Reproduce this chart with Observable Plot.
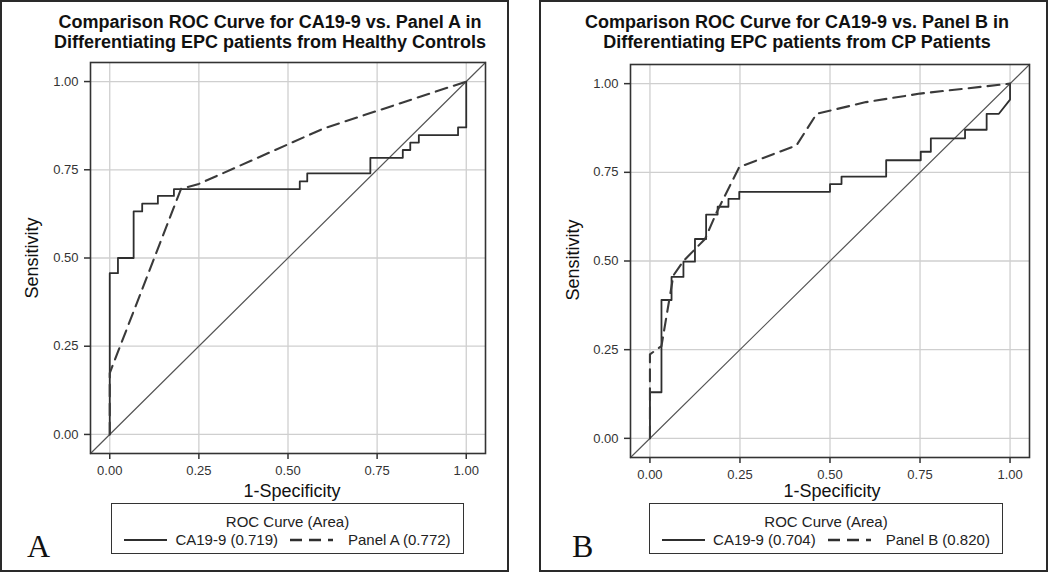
<!DOCTYPE html>
<html>
<head>
<meta charset="utf-8">
<script src="https://cdn.jsdelivr.net/npm/d3@7"></script>
<script src="https://cdn.jsdelivr.net/npm/@observablehq/plot@0.6"></script>
<style>
  html, body { margin: 0; padding: 0; background: #fff; }
  #page { position: relative; width: 1050px; height: 573px; overflow: hidden; font-family: "Liberation Sans", Arial, sans-serif; color: #222; }
  .box { position: absolute; border: 2.5px solid #2a2a2a; box-sizing: border-box; }
  .title { position: absolute; font-weight: bold; font-size: 18px; line-height: 20px; text-align: center; white-space: nowrap; transform: translateX(-50%); color: #111; }
  .xlab { position: absolute; font-size: 18px; line-height: 18px; transform: translateX(-50%); white-space: nowrap; color: #111; }
  .ylab { position: absolute; font-size: 18px; line-height: 18px; white-space: nowrap; color: #111; transform: translate(-50%, -50%) rotate(-90deg); }
  .legend { position: absolute; border: 1.5px solid #333; box-sizing: border-box; font-size: 15px; color: #222; }
  .legend .lt { text-align: center; margin-top: 9px; line-height: 17px; white-space: nowrap; }
  .legend .row { display: flex; flex-wrap: nowrap; justify-content: center; align-items: center; margin-top: 1px; line-height: 17px; white-space: nowrap; }
  .legend .row > * { flex: 0 0 auto; }
  .legend svg { display: block; }
  .letter { position: absolute; font-family: "Liberation Serif", "Times New Roman", serif; font-size: 32px; color: #111; }
  .plotwrap { position: absolute; }
</style>
</head>
<body>
<div id="page"></div>
<script>
// ---------------- DATA ----------------
const axisTicks = [0, 0.25, 0.5, 0.75, 1];
const axisDomain = [-0.054, 1.054];

// Panel A chart (EPC vs Healthy Controls)
const titleA = ["Comparison ROC Curve for CA19-9 vs. Panel A in", "Differentiating EPC patients from Healthy Controls"];
const caA_fpr = [0, 0, 0.023, 0.023, 0.067, 0.067, 0.091, 0.091, 0.135, 0.135, 0.18, 0.18, 0.533, 0.533, 0.554, 0.554, 0.731, 0.731, 0.822, 0.822, 0.843, 0.843, 0.867, 0.867, 0.977, 0.977, 1.0, 1.0];
const caA_tpr = [0, 0.457, 0.457, 0.5, 0.5, 0.632, 0.632, 0.654, 0.654, 0.676, 0.676, 0.695, 0.695, 0.717, 0.717, 0.74, 0.74, 0.784, 0.784, 0.806, 0.806, 0.827, 0.827, 0.848, 0.848, 0.87, 0.87, 1.0];
const panelA_fpr = [0, 0, 0.2, 0.25, 0.6, 1.0];
const panelA_tpr = [0, 0.174, 0.696, 0.71, 0.867, 1.0];
const legendA = ["CA19-9 (0.719)", "Panel A (0.772)"];

// Panel B chart (EPC vs CP Patients)
const titleB = ["Comparison ROC Curve for CA19-9 vs. Panel B in", "Differentiating EPC patients from CP Patients"];
const caB_fpr = [0, 0, 0.032, 0.032, 0.06, 0.06, 0.093, 0.093, 0.125, 0.125, 0.156, 0.156, 0.188, 0.188, 0.218, 0.218, 0.248, 0.248, 0.5, 0.5, 0.532, 0.532, 0.656, 0.656, 0.752, 0.752, 0.78, 0.78, 0.875, 0.875, 0.935, 0.935, 0.969, 1.0, 1.0];
const caB_tpr = [0, 0.13, 0.13, 0.39, 0.39, 0.455, 0.455, 0.498, 0.498, 0.562, 0.562, 0.631, 0.631, 0.653, 0.653, 0.675, 0.675, 0.695, 0.695, 0.717, 0.717, 0.738, 0.738, 0.784, 0.784, 0.808, 0.808, 0.846, 0.846, 0.87, 0.87, 0.915, 0.915, 0.955, 1.0];
const panelB_fpr = [0, 0, 0.032, 0.065, 0.093, 0.153, 0.185, 0.248, 0.407, 0.463, 0.6, 0.75, 1.0];
const panelB_tpr = [0, 0.237, 0.26, 0.459, 0.5, 0.562, 0.637, 0.765, 0.826, 0.915, 0.948, 0.972, 1.0];
const legendB = ["CA19-9 (0.704)", "Panel B (0.820)"];

const legendTitle = "ROC Curve (Area)";
const xLabel = "1-Specificity";
const yLabel = "Sensitivity";
const letters = ["A", "B"];

// ---------------- DRAW ----------------
const page = document.getElementById("page");
const toPts = (xs, ys) => xs.map((x, i) => ({x, y: ys[i]}));
const CURVE = "#2e2e2e";
const DASH = "12,7";

function el(tag, cls, css, text) {
  const e = document.createElement(tag);
  if (cls) e.className = cls;
  Object.assign(e.style, css || {});
  if (text != null) e.textContent = text;
  page.appendChild(e);
  return e;
}

function sample(dashed) {
  const ns = "http://www.w3.org/2000/svg";
  const s = document.createElementNS(ns, "svg");
  s.setAttribute("width", 43); s.setAttribute("height", 10);
  const l = document.createElementNS(ns, "line");
  l.setAttribute("x1", 0); l.setAttribute("x2", 43); l.setAttribute("y1", 5); l.setAttribute("y2", 5);
  l.setAttribute("stroke", CURVE); l.setAttribute("stroke-width", dashed ? 2.4 : 1.9);
  if (dashed) l.setAttribute("stroke-dasharray", DASH);
  s.appendChild(l);
  return s;
}

function panel(cfg) {
  el("div", "box", {left: cfg.boxL + "px", top: "0px", width: cfg.boxW + "px", height: "572px"});
  const t = el("div", "title", {left: cfg.titleX + "px", top: "12px"});
  t.innerHTML = cfg.title.join("<br>");

  const diag = toPts(axisDomain, axisDomain);
  const chart = Plot.plot({
    width: 505, height: 460,
    marginLeft: 90, marginRight: cfg.mr, marginTop: 22, marginBottom: 460 - 22 - cfg.ph,
    x: {domain: axisDomain},
    y: {domain: axisDomain},
    style: {fontFamily: "Liberation Sans, Arial, sans-serif", fontSize: "13px", color: "#333", background: "transparent", overflow: "visible"},
    marks: [
      Plot.gridX(axisTicks, {stroke: "#cfcfcf", strokeOpacity: 1, strokeWidth: 1.3}),
      Plot.gridY(axisTicks, {stroke: "#cfcfcf", strokeOpacity: 1, strokeWidth: 1.3}),
      Plot.line(diag, {x: "x", y: "y", stroke: "#555", strokeWidth: 1.2}),
      Plot.line(toPts(cfg.caX, cfg.caY), {x: "x", y: "y", stroke: CURVE, strokeWidth: 1.8}),
      Plot.line(toPts(cfg.pX, cfg.pY), {x: "x", y: "y", stroke: "#3a3a3a", strokeWidth: 2.1, strokeDasharray: DASH}),
      Plot.axisX(axisTicks, {tickFormat: d3.format(".2f"), tickSize: 6, tickPadding: 6, label: null, stroke: "#333", strokeWidth: 1.5}),
      Plot.axisY(axisTicks, {tickFormat: d3.format(".2f"), tickSize: 6, tickPadding: 6, label: null, stroke: "#333", strokeWidth: 1.5}),
      Plot.frame({stroke: "#333", strokeWidth: 1.6})
    ]
  });
  const wrap = el("div", "plotwrap", {left: cfg.svgL + "px", top: cfg.svgT + "px"});
  wrap.appendChild(chart);

  el("div", "xlab", {left: cfg.xlabX + "px", top: "482px"}, xLabel);
  el("div", "ylab", {left: cfg.ylabX + "px", top: cfg.ylabY + "px"}, yLabel);

  const lg = el("div", "legend", {left: cfg.lgL + "px", top: "503px", width: cfg.lgW + "px", height: "51px"});
  const lt = document.createElement("div"); lt.className = "lt"; lt.textContent = legendTitle; lg.appendChild(lt);
  const row = document.createElement("div"); row.className = "row"; lg.appendChild(row);
  const s1 = sample(false); s1.style.marginRight = "8px"; row.appendChild(s1);
  const t1 = document.createElement("span"); t1.textContent = cfg.legend[0]; t1.style.marginRight = "12px"; row.appendChild(t1);
  const s2 = sample(true); s2.style.marginRight = "15px"; row.appendChild(s2);
  const t2 = document.createElement("span"); t2.textContent = cfg.legend[1]; row.appendChild(t2);

  el("div", "letter", {left: cfg.letterX + "px", top: "528px"}, cfg.letter);
}

panel({boxL: 0, boxW: 509, titleX: 270, title: titleA, svgL: 0, svgT: 40, mr: 20, ph: 391,
  caX: caA_fpr, caY: caA_tpr, pX: panelA_fpr, pY: panelA_tpr,
  xlabX: 292, ylabX: 32, ylabY: 258, lgL: 111, lgW: 353, legend: legendA, letter: letters[0], letterX: 27});

panel({boxL: 539, boxW: 509, titleX: 797, title: titleB, svgL: 540, svgT: 42, mr: 16, ph: 393,
  caX: caB_fpr, caY: caB_tpr, pX: panelB_fpr, pY: panelB_tpr,
  xlabX: 832, ylabX: 573, ylabY: 260, lgL: 649, lgW: 354, legend: legendB, letter: letters[1], letterX: 572});
</script>
</body>
</html>
